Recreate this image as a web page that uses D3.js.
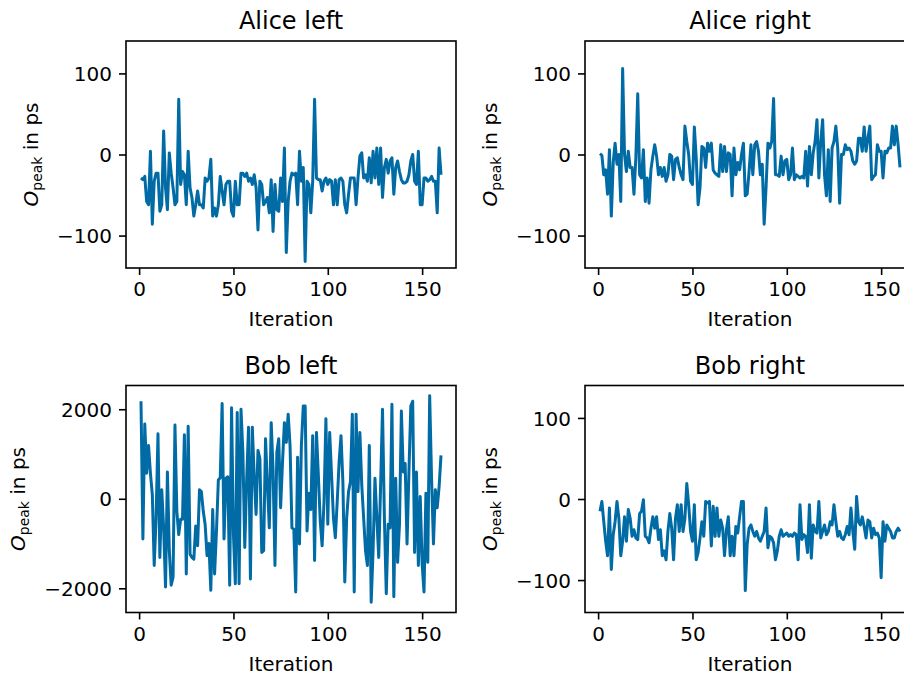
<!DOCTYPE html>
<html>
<head>
<meta charset="utf-8">
<script src="https://cdn.jsdelivr.net/npm/d3@7"></script>
<style>
  body { margin: 0; background: #fff; }
  svg { display: block; }
  text { font-family: "DejaVu Sans", sans-serif; fill: #000; }
</style>
</head>
<body>
<div class="canvas"></div>
<script>
// data, one value per iteration (1..160)
const aliceLeft = [-29,-31,-27,-58,-62,4,-86,-33,-23,-23,-70,-62,29,-41,-68,2,-23,-41,-62,-58,
  68,-37,-21,-25,-62,4,-41,-53,-76,-62,-45,-62,-62,-66,-29,-33,-29,-6,-76,-66,
  -76,-62,-27,-45,-62,-37,-33,-33,-70,-76,-33,-62,-62,-23,-23,-27,-23,-33,-29,-37,
  -25,-41,-93,-33,-37,-62,-58,-53,-72,-31,-95,-37,-68,-70,-29,-58,8,-121,-58,-33,
  -23,-25,-23,-62,4,-33,-16,-132,-33,-37,-72,-33,68,-29,-31,-31,-45,-33,-29,-37,
  -31,-33,-62,-31,-62,-31,-29,-33,-62,-72,-49,-29,-29,-29,-62,-29,-2,2,-29,-25,
  -33,-4,-35,4,-29,8,-37,8,-53,-16,-6,-23,-8,-4,-49,-16,-8,-21,-31,-35,
  -35,-33,-25,-8,0,-33,-37,4,-62,-62,-29,-29,-33,-31,-27,-33,-33,-72,8,-25]

const aliceRight = [1,-1,-25,-19,-49,6,-76,-10,14,-12,0,-58,106,0,-21,4,-16,-16,-49,-4,
  75,-25,-29,6,-58,-29,-60,-19,-2,12,-2,-25,-16,-27,-16,-33,-25,0,-2,-31,
  -6,-4,-16,-25,-31,35,16,0,-33,-37,34,-4,-62,-41,10,8,-16,14,4,14,
  -19,-23,-25,-27,12,-21,10,-21,2,0,-51,8,-25,-10,-19,0,14,-51,-49,-21,
  12,-25,12,16,4,-25,-12,-86,-41,14,8,16,69,-25,-25,-27,-2,-25,-8,-6,
  -31,-25,8,-31,-25,-27,-29,-27,-29,4,-39,10,-25,2,16,43,-29,16,43,-25,
  -51,6,-58,8,16,35,8,-60,0,0,12,6,8,4,-8,-12,-8,20,20,4,
  34,4,20,35,-31,-27,-25,12,4,4,-29,4,2,8,8,35,12,35,12,-16]

const bobLeft = [2180,-900,1670,570,1190,570,90,-1490,-430,1450,-1310,200,-650,-1970,600,-1160,-1930,-1750,1650,-280,
  -800,-460,-460,1430,-1680,1620,-1240,-1310,-1350,-610,-1050,200,160,-280,-575,-1270,-1000,-2045,-240,-1680,
  -720,420,470,2130,-900,460,490,-1930,2035,-800,-1900,1930,-1900,2000,1040,-1090,420,1600,-1790,1600,
  500,-350,1080,900,-1200,-1160,1340,310,-650,1700,640,-1490,1040,1340,-200,820,1700,1260,1890,1190,
  -650,-680,-2080,930,-1010,1190,2070,2070,-720,125,-240,1410,-1380,1480,530,-500,-1050,-60,1790,-570,
  1480,530,-430,-870,-60,820,1410,380,-1860,-430,160,380,1890,-2080,1890,160,1480,310,-430,-1160,
  -1490,1190,-2310,-1160,460,-430,-1310,310,2000,-430,-2120,-570,-650,2110,-2190,460,-1420,-570,1960,600,
  790,-1010,600,2070,2180,-1200,600,-1490,50,-1460,-2080,125,-1420,2300,460,-1010,200,-200,270,970]

const bobRight = [-15,-3,-28,-52,-70,-11,-87,-44,-28,-3,-24,-70,-52,-22,-52,-13,-24,-46,-38,-48,
  -50,-18,-15,-1,-46,-48,-54,-36,-22,-36,-22,-50,-38,-70,-64,-75,-40,-18,-36,-75,
  -24,-7,-40,-7,-40,-24,19,-7,-40,-52,-7,-75,-66,-48,-28,-46,-3,-5,-3,-58,
  -9,-46,-11,-46,-26,-36,-70,-38,-22,-70,-46,-70,-34,-42,-22,-3,-3,-113,-56,-36,
  -32,-40,-46,-40,-48,-52,-46,-40,-11,-60,-46,-48,-54,-75,-64,-46,-38,-46,-44,-42,
  -46,-44,-46,-42,-44,-75,-7,-50,-44,-46,-66,-7,-73,-32,-40,-42,-3,-48,-40,-32,
  -44,-40,-28,-32,-7,-28,-46,-40,-48,-50,-44,-34,-44,-11,-40,-62,3,-28,-32,-22,
  -34,-48,-26,-28,-48,-36,-44,-42,-48,-97,-28,-52,-32,-36,-40,-48,-48,-40,-36,-40]

const iterations = d3.range(1, aliceLeft.length + 1)
const titles = ['Alice left', 'Alice right', 'Bob left', 'Bob right']
const xTicks = [0, 50, 100, 150]
const smallTicks = [-100, 0, 100]
const largeTicks = [-2000, 0, 2000]

const width = 904, height = 677
const svg = d3.select('.canvas').append('svg')
  .attr('width', width)
  .attr('height', height)

// panel geometry
const colLeft = [126, 585]
const rowTop = [41, 385.5]
const panelW = 330, panelH = 227
const color = '#006ba4'

// matplotlib style 5% margins
const pad = (ext) => {
  const m = (ext[1] - ext[0]) * 0.05
  return [ext[0] - m, ext[1] + m]
}

const panels = [
  {title: titles[0], values: aliceLeft, col: 0, row: 0, yDomain: [-140, 140], ticks: smallTicks},
  {title: titles[1], values: aliceRight, col: 1, row: 0, yDomain: [-140, 140], ticks: smallTicks},
  {title: titles[2], values: bobLeft, col: 0, row: 1, yDomain: pad(d3.extent(bobLeft)), ticks: largeTicks},
  {title: titles[3], values: bobRight, col: 1, row: 1, yDomain: [-140, 140], ticks: smallTicks}
]

panels.forEach(p => {
  const left = colLeft[p.col], top = rowTop[p.row]
  const graph = svg.append('g').attr('transform', `translate(${left}, ${top})`)

  const x = d3.scaleLinear().domain(pad(d3.extent(iterations))).range([0, panelW])
  const y = d3.scaleLinear().domain(p.yDomain).range([panelH, 0])

  const line = d3.line()
    .x((d, i) => x(iterations[i]))
    .y(d => y(d))

  graph.append('path')
    .datum(p.values)
    .attr('fill', 'none')
    .attr('stroke', color)
    .attr('stroke-width', 3)
    .attr('stroke-linejoin', 'round')
    .attr('d', line)

  // axes box
  graph.append('rect')
    .attr('width', panelW)
    .attr('height', panelH)
    .attr('fill', 'none')
    .attr('stroke', '#000')
    .attr('stroke-width', 1.6)

  const xAxisGroup = graph.append('g').attr('transform', `translate(0, ${panelH})`)
  const yAxisGroup = graph.append('g')

  xAxisGroup.call(d3.axisBottom(x).tickValues(xTicks).tickSize(7).tickPadding(7).tickFormat(d3.format('d')))
  yAxisGroup.call(d3.axisLeft(y).tickValues(p.ticks).tickSize(7).tickPadding(7).tickFormat(d3.format('d')))

  ;[xAxisGroup, yAxisGroup].forEach(g => {
    g.select('.domain').remove()
    g.selectAll('line').attr('stroke', '#000').attr('stroke-width', 1.6)
    g.selectAll('text').attr('font-size', 20).attr('font-family', 'DejaVu Sans').attr('fill', '#000')
  })
  yAxisGroup.selectAll('text').attr('dy', '0.36em')

  graph.append('text')
    .attr('x', panelW / 2)
    .attr('y', -12)
    .attr('text-anchor', 'middle')
    .attr('font-size', 24)
    .text(p.title)

  graph.append('text')
    .attr('x', panelW / 2)
    .attr('y', panelH + 58)
    .attr('text-anchor', 'middle')
    .attr('font-size', 20)
    .text('Iteration')

  // ylabel goes left of the tick labels
  const bb = yAxisGroup.node().getBBox()
  const ylab = graph.append('text')
    .attr('transform', `translate(${bb.x - 19}, ${panelH / 2}) rotate(-90)`)
    .attr('text-anchor', 'middle')
    .attr('font-size', 20)
  ylab.append('tspan').attr('font-style', 'italic').text('O')
  ylab.append('tspan').attr('font-size', 14).attr('dy', 4).text('peak')
  ylab.append('tspan').attr('dy', -4).text(' in ps')
})
</script>
</body>
</html>
